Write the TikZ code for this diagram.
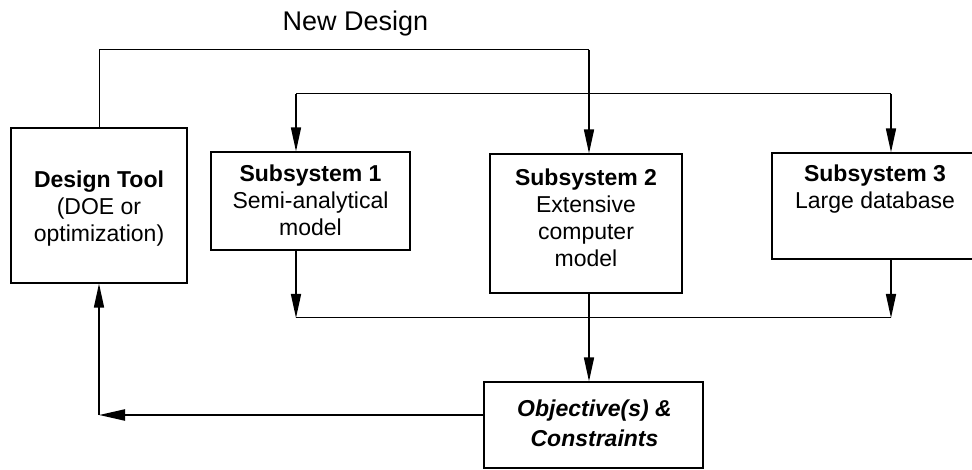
\documentclass[tikz,border=0pt]{standalone}
\usepackage{fontspec}
\setmainfont{Liberation Sans}
\usetikzlibrary{arrows.meta}
\begin{document}
\begin{tikzpicture}[x=1pt,y=-1pt,
  box/.style={draw, line width=1.2pt, inner sep=0pt},
  txt/.style={align=center, inner sep=0pt, anchor=north, font=\fontsize{23}{27}\selectfont},
  bus/.style={line width=1pt},
  arr/.style={line width=1.6pt, -{Triangle[length=24pt,width=10pt]}},
  thickarr/.style={line width=2.2pt, -{Triangle[length=26pt,width=11pt]}},
]
\useasboundingbox (0,0) rectangle (972,470);
\clip (0,0) rectangle (972,470);

% boxes
\node[box, minimum width=176pt, minimum height=155pt] (dt) at (99,205.5) {};
\node[box, minimum width=199pt, minimum height=98pt] (s1) at (310.5,201) {};
\node[box, minimum width=192pt, minimum height=139pt] (s2) at (586,223.5) {};
\node[box, minimum width=206pt, minimum height=106pt] (s3) at (875,206) {};
\node[box, minimum width=219pt, minimum height=86pt] (obj) at (593.5,425) {};

% texts
\node[inner sep=0pt, anchor=base, font=\fontsize{27}{32}\selectfont] (ndl) at (355.5,30.7) {New Design};
\node[txt] (dtT) at (99,170.5) {\textbf{Design Tool}\\(DOE or\\optimization)};
\node[txt] (s1T) at (310.5,165) {\textbf{Subsystem 1}\\Semi-analytical\\model};
\node[txt] (s2T) at (586,168.5) {\textbf{Subsystem 2}\\Extensive\\computer\\model};
\node[txt] (s3T) at (875,165) {\textbf{Subsystem 3}\\Large database};
\node[txt, font=\fontsize{23}{30}\selectfont\bfseries\itshape] (objT) at (594.5,400) {Objective(s) \&\\Constraints};

% top feedback line
\coordinate (tl) at (589,50);
\draw[bus] (dt.north) |- (tl);
\draw[arr] (tl) -- (tl |- s2.north);

% distribution bus
\coordinate (u1) at (296,94);
\coordinate (u3) at (891,94);
\draw[bus] (u1) -- (u3);
\draw[arr] (u1) -- (u1 |- s1.north);
\draw[arr] (u3) -- (u3 |- s3.north);

% collection bus
\coordinate (d1) at (296,318);
\coordinate (d3) at (891,318);
\draw[arr] (d1 |- s1.south) -- (d1);
\draw[arr] (d3 |- s3.south) -- (d3);
\draw[bus] (d1) -- (d3);
\draw[arr] (tl |- s2.south) -- (tl |- obj.north);

% return to design tool
\coordinate (lc) at (99,415);
\draw[thickarr] (obj.west |- lc) -- (lc);
\draw[arr] (lc) -- (dt.south);
\end{tikzpicture}
\end{document}
